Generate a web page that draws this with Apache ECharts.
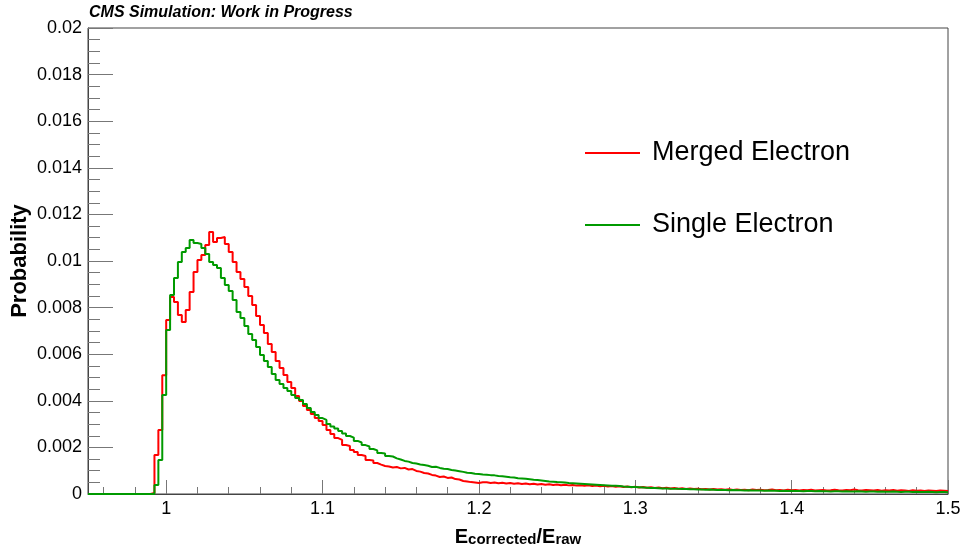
<!DOCTYPE html>
<html>
<head>
<meta charset="utf-8">
<script src="https://cdn.jsdelivr.net/npm/echarts@6/dist/echarts.min.js"></script>
<style>html,body{margin:0;padding:0;background:#fff}#c{width:964px;height:554px}</style>
</head>
<body>
<div id="c"></div>
<script>
// Histogram binning (bin left edge of first bin, bin width)
const binStart = 0.95;
const binWidth = 0.0025;

// Tick values / labels
const xMajorTicks = [1.0, 1.1, 1.2, 1.3, 1.4, 1.5];
const xMinorTicks = [0.96, 0.98, 1.02, 1.04, 1.06, 1.08, 1.12, 1.14, 1.16, 1.18, 1.22, 1.24, 1.26, 1.28,
  1.32, 1.34, 1.36, 1.38, 1.42, 1.44, 1.46, 1.48];
const seriesNames = ['Merged Electron', 'Single Electron'];

// Merged electron histogram contents (0.95 -> 1.5, 220 bins)
const mergedValues = [
  0,0,0,0,0,0,0,0,0,0,0,0,0,0,0,0,
  0.00005, 0.00167, 0.00275, 0.00510, 0.00747, 0.00845, 0.00824, 0.00768, 0.00738, 0.00790,
  0.00867, 0.00953, 0.01004, 0.01026, 0.01069, 0.01124, 0.01082, 0.01099, 0.01103, 0.01073,
  0.01039, 0.00996, 0.00953, 0.00923, 0.00888, 0.00850, 0.00811, 0.00764, 0.00725, 0.00691,
  0.00644, 0.00609, 0.00571, 0.00541, 0.00511, 0.00481, 0.00455, 0.00421, 0.00399, 0.00378,
  0.00360, 0.00343, 0.00326, 0.00313, 0.00296,
  0.00275, 0.00258, 0.00240, 0.00232, 0.00210, 0.00206, 0.00189, 0.00180, 0.00167, 0.00163,
  0.00146, 0.00144, 0.00133, 0.00126, 0.00120, 0.00118, 0.00114, 0.00116, 0.00110, 0.00112,
  0.00105, 0.00107, 0.00099, 0.00096, 0.00090, 0.00088, 0.00082, 0.00079, 0.00073, 0.00075,
  0.00069, 0.00071, 0.00064, 0.00062, 0.00056, 0.00054, 0.00051, 0.00049, 0.00047, 0.00050,
  0.00050, 0.00047, 0.00049, 0.00046, 0.00048, 0.00045, 0.00047, 0.00044, 0.00046, 0.00043,
  0.00045, 0.00042, 0.00044, 0.00041, 0.00043, 0.00040, 0.00042, 0.00039, 0.00041, 0.00038,
  0.00040, 0.00037, 0.00039, 0.00036, 0.00038, 0.00035, 0.00037, 0.00034, 0.00036, 0.00033,
  0.00035, 0.00032, 0.00034, 0.00031, 0.00033, 0.00030, 0.00032, 0.00029, 0.00031, 0.00028,
  0.00030, 0.00027, 0.00029, 0.00026, 0.00028, 0.00025, 0.00027, 0.00024, 0.00026, 0.00023,
  0.00025, 0.00022, 0.00024, 0.00021, 0.00023, 0.00020, 0.00022, 0.00019, 0.00021, 0.00019,
  0.00020, 0.00018, 0.00020, 0.00017, 0.00019, 0.00017, 0.00018, 0.00016, 0.00019, 0.00017,
  0.00018, 0.00016, 0.00017, 0.00019, 0.00016, 0.00017, 0.00015, 0.00018, 0.00016, 0.00017,
  0.00015, 0.00017, 0.00016, 0.00018, 0.00015, 0.00016, 0.00017, 0.00015, 0.00016, 0.00018,
  0.00016, 0.00015, 0.00017, 0.00016, 0.00019, 0.00016, 0.00015, 0.00017, 0.00016, 0.00015,
  0.00017, 0.00014, 0.00016, 0.00015, 0.00017, 0.00014, 0.00016, 0.00015, 0.00013, 0.00016,
  0.00014, 0.00015, 0.00013, 0.00015, 0.00014, 0.00013, 0.00015, 0.00014, 0.00013
];

// Single electron histogram contents (0.95 -> 1.5, 220 bins)
const singleValues = [
  0,0,0,0,0,0,0,0,0,0,0,0,0,0,0,0,
  0.00000, 0.00039, 0.00146, 0.00425, 0.00704, 0.00854, 0.00927, 0.00996, 0.01039, 0.01056,
  0.01090, 0.01077, 0.01073, 0.01056, 0.01030, 0.00996, 0.00983, 0.00970, 0.00927, 0.00897,
  0.00871, 0.00833, 0.00781, 0.00755, 0.00721, 0.00687, 0.00661, 0.00631, 0.00597, 0.00571,
  0.00545, 0.00515, 0.00489, 0.00472, 0.00455, 0.00442, 0.00425, 0.00412, 0.00403, 0.00386,
  0.00369, 0.00352, 0.00339, 0.00326, 0.00318,
  0.00300, 0.00290, 0.00281, 0.00270, 0.00260, 0.00249, 0.00242, 0.00228, 0.00221, 0.00210,
  0.00204, 0.00193, 0.00187, 0.00176, 0.00174, 0.00163, 0.00161, 0.00153, 0.00148, 0.00142,
  0.00139, 0.00133, 0.00131, 0.00127, 0.00124, 0.00121, 0.00116, 0.00117, 0.00112, 0.00108,
  0.00107, 0.00103, 0.00101, 0.00098, 0.00095, 0.00091, 0.00090, 0.00087, 0.00086, 0.00084,
  0.00083, 0.00081, 0.00080, 0.00077, 0.00076, 0.00074, 0.00072, 0.00071, 0.00068, 0.00067,
  0.00065, 0.00063, 0.00061, 0.00060, 0.00058, 0.00056, 0.00054, 0.00053, 0.00051, 0.00050,
  0.00049, 0.00047, 0.00046, 0.00045, 0.00044, 0.00043, 0.00042, 0.00041, 0.00040, 0.00039,
  0.00038, 0.00037, 0.00035, 0.00035, 0.00034, 0.00032, 0.00031, 0.00030, 0.00030, 0.00029,
  0.00028, 0.00027, 0.00026, 0.00026, 0.00025, 0.00024, 0.00024, 0.00023, 0.00022, 0.00022,
  0.00021, 0.00021, 0.00020, 0.00020, 0.00019, 0.00019, 0.00018, 0.00019, 0.00018, 0.00017,
  0.00017, 0.00017, 0.00016, 0.00017, 0.00016, 0.00016, 0.00015, 0.00016, 0.00015, 0.00015,
  0.00015, 0.00014, 0.00015, 0.00014, 0.00014, 0.00013, 0.00014, 0.00013, 0.00014, 0.00013,
  0.00013, 0.00012, 0.00013, 0.00013, 0.00012, 0.00013, 0.00012, 0.00012, 0.00011, 0.00012,
  0.00012, 0.00011, 0.00012, 0.00011, 0.00011, 0.00012, 0.00011, 0.00010, 0.00011, 0.00011,
  0.00010, 0.00011, 0.00010, 0.00010, 0.00011, 0.00010, 0.00009, 0.00010, 0.00010, 0.00009,
  0.00010, 0.00009, 0.00009, 0.00010, 0.00009, 0.00008, 0.00009, 0.00009, 0.00008
];

function toSteps(vals) {
  const d = vals.map((v, i) => [+(binStart + i * binWidth).toFixed(4), v]);
  d.push([+(binStart + vals.length * binWidth).toFixed(4), vals[vals.length - 1]]);
  return d;
}

const FONT = '"Liberation Sans", Arial, Helvetica, sans-serif';
const AX = '#444';

const chart = echarts.init(document.getElementById('c'), null, {renderer: 'canvas'});
chart.setOption({
  animation: false,
  backgroundColor: '#fff',
  textStyle: {fontFamily: FONT},
  title: {
    text: 'CMS Simulation: Work in Progress',
    left: 84, top: 0,
    textStyle: {fontSize: 16, fontWeight: 'bold', fontStyle: 'italic', color: '#000', fontFamily: FONT}
  },
  legend: {
    orient: 'vertical',
    left: 585, top: 138, padding: 0,
    itemWidth: 55, itemHeight: 2, itemGap: 42,
    icon: 'rect',
    data: seriesNames,
    textStyle: {fontSize: 27, color: '#000', fontFamily: FONT, lineHeight: 30, padding: [0, 0, 0, 7]}
  },
  grid: {
    left: 88, right: 16, top: 28, bottom: 60,
    outerBoundsMode: 'none', containLabel: false,
    show: true, borderColor: AX, borderWidth: 1
  },
  xAxis: [{
    type: 'value', min: 0.95, max: 1.5,
    position: 'bottom',
    axisLine: {show: true, lineStyle: {color: AX, width: 1}},
    axisTick: {show: true, inside: true, length: 14, customValues: xMajorTicks, lineStyle: {color: '#777'}},
    axisLabel: {show: true, customValues: xMajorTicks, margin: 6, fontSize: 18, color: '#000', fontFamily: FONT,
      formatter: v => String(+v.toFixed(2))},
    splitLine: {show: false},
    name: '{e|E}{s|corrected}{e|/E}{s|raw}',
    nameLocation: 'middle', nameGap: 33, nameMoveOverlap: false,
    nameTextStyle: {
      rich: {
        e: {fontSize: 20, fontWeight: 'bold', color: '#000', fontFamily: FONT, lineHeight: 20, verticalAlign: 'top'},
        s: {fontSize: 15, fontWeight: 'bold', color: '#000', fontFamily: FONT, lineHeight: 16, padding: [10, 0, 0, 0], verticalAlign: 'bottom'}
      }
    }
  }, {
    type: 'value', min: 0.95, max: 1.5,
    position: 'bottom',
    axisLine: {show: false},
    axisTick: {show: true, inside: true, length: 7, customValues: xMinorTicks, lineStyle: {color: '#777'}},
    axisLabel: {show: false},
    splitLine: {show: false}
  }],
  yAxis: {
    type: 'value', min: 0, max: 0.02, interval: 0.002,
    axisLine: {show: true, lineStyle: {color: AX, width: 1}},
    axisTick: {show: true, inside: true, length: 25, lineStyle: {color: '#777'}},
    minorTick: {show: true, splitNumber: 4, length: 12, lineStyle: {color: '#777'}},
    axisLabel: {margin: 6, fontSize: 18, color: '#000', fontFamily: FONT},
    splitLine: {show: false},
    name: 'Probability',
    nameLocation: 'middle', nameRotate: 90, nameGap: 57, nameMoveOverlap: false,
    nameTextStyle: {fontSize: 22, fontWeight: 'bold', color: '#000', fontFamily: FONT}
  },
  series: [{
    name: seriesNames[0], type: 'line', step: 'end', xAxisIndex: 0,
    showSymbol: false, symbol: 'none',
    data: toSteps(mergedValues),
    lineStyle: {color: '#ff0000', width: 2},
    itemStyle: {color: '#ff0000'}
  }, {
    name: seriesNames[1], type: 'line', step: 'end', xAxisIndex: 0,
    showSymbol: false, symbol: 'none',
    data: toSteps(singleValues),
    lineStyle: {color: '#009a00', width: 2},
    itemStyle: {color: '#009a00'}
  }]
});
</script>
</body>
</html>
